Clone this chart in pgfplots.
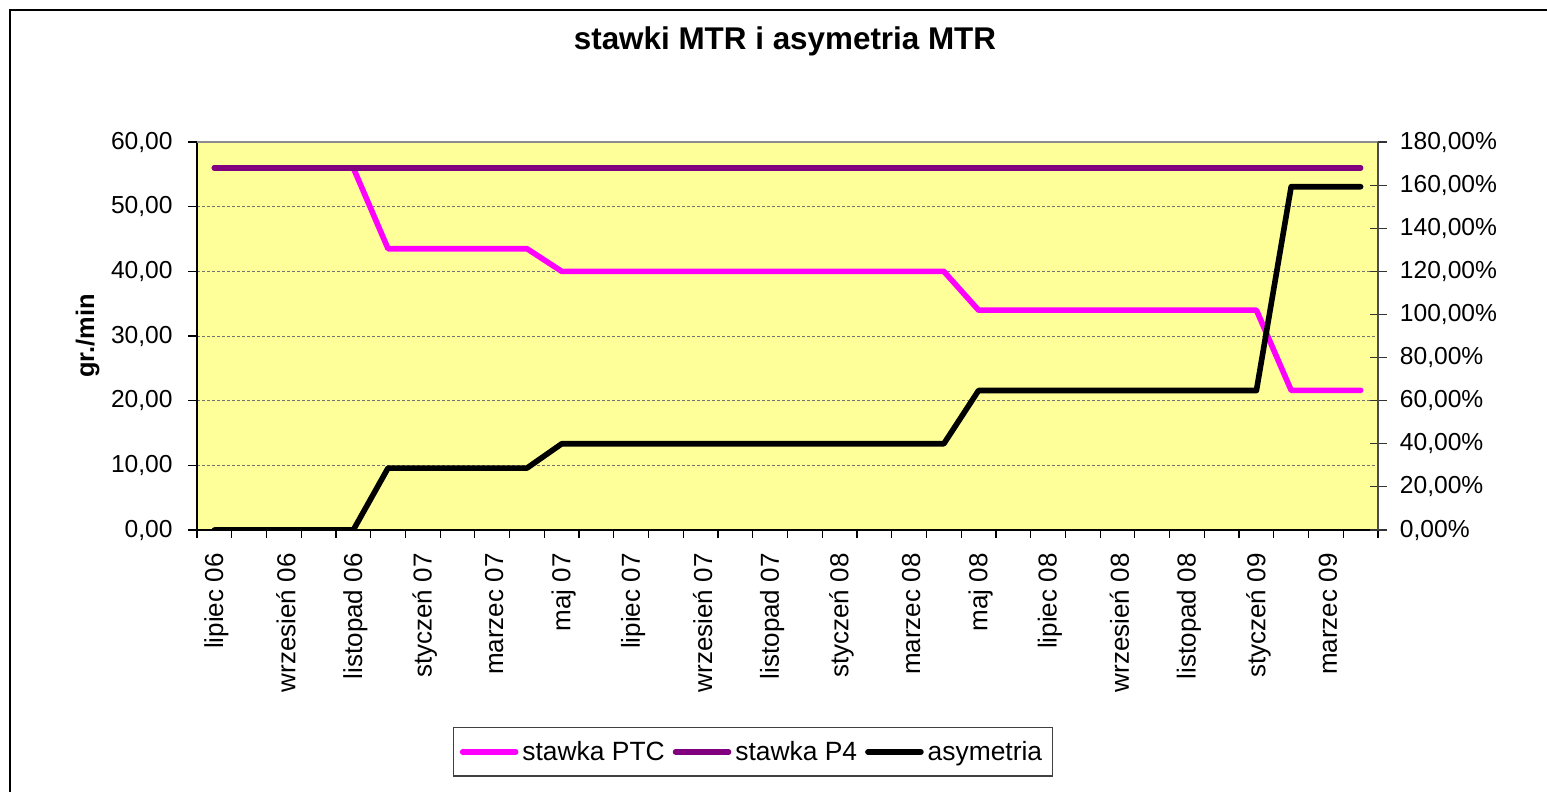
\documentclass[border=0pt]{standalone}
\usepackage{pgfplots}
\usepackage{pgfplotstable}
\pgfplotsset{compat=1.18}
\usepackage{fontspec}
\setmainfont{Liberation Sans}
\definecolor{ptc}{HTML}{FF00FF}
\definecolor{ptfour}{HTML}{800080}
\definecolor{bgy}{HTML}{FFFF99}

\pgfplotstableread{
x ptc p4 asym
0 56 56 0
1 56 56 0
2 56 56 0
3 56 56 0
4 56 56 0
5 43.5 56 28.74
6 43.5 56 28.74
7 43.5 56 28.74
8 43.5 56 28.74
9 43.5 56 28.74
10 40 56 40
11 40 56 40
12 40 56 40
13 40 56 40
14 40 56 40
15 40 56 40
16 40 56 40
17 40 56 40
18 40 56 40
19 40 56 40
20 40 56 40
21 40 56 40
22 34 56 64.71
23 34 56 64.71
24 34 56 64.71
25 34 56 64.71
26 34 56 64.71
27 34 56 64.71
28 34 56 64.71
29 34 56 64.71
30 34 56 64.71
31 21.6 56 159.26
32 21.6 56 159.26
33 21.6 56 159.26
}\datatable

\pgfplotsset{
  common/.style={
    scale only axis, width=590.5pt, height=194pt,
    at={(98.5pt,-265pt)}, anchor=south west,
    xmin=-0.5, xmax=33.5,
    tick label style={font=\fontsize{12.3}{14}\selectfont},
    axis line style={-, line width=0.6pt},
  },
  serie/.style={line width=2.8pt, line cap=round, line join=round, mark=none},
}

\begin{document}
\begin{tikzpicture}
\useasboundingbox (0,0) rectangle (773.5pt,-396pt);
\draw[line width=0.9pt] (780pt,-5pt) -- (5pt,-5pt) -- (5pt,-400pt);
\node[font=\bfseries\fontsize{15.7}{18}\selectfont] at (392.5pt,-20.5pt) {stawki MTR i asymetria MTR};

\begin{axis}[common,
  axis background/.style={fill=bgy},
  axis x line*=bottom, axis y line*=left,
  ymin=0, ymax=60,
  ytick={0,10,...,60},
  yticklabels={{0,00},{10,00},{20,00},{30,00},{40,00},{50,00},{60,00}},
  ymajorgrids,
  grid style={draw=black!55, line width=0.5pt, dash pattern=on 1.5pt off 1pt},
  tick align=outside,
  major tick length=4.5pt,
  minor tick length=4pt,
  tick style={black, line width=0.6pt},
  xtick={0,2,...,32},
  xticklabels={lipiec 06, wrzesień 06, listopad 06, styczeń 07, marzec 07, maj 07, lipiec 07, wrzesień 07, listopad 07, styczeń 08, marzec 08, maj 08, lipiec 08, wrzesień 08, listopad 08, styczeń 09, marzec 09},
  major x tick style={draw=none},
  minor xtick={-0.5,0.5,...,33.5},
  xticklabel style={rotate=90, anchor=east, inner sep=0pt, yshift=-1pt, xshift=-7pt, font=\fontsize{13}{15}\selectfont},
  yticklabel style={anchor=east, inner sep=0pt, xshift=-7.5pt},
  ylabel={gr./min},
  ylabel style={font=\bfseries\fontsize{12.7}{14}\selectfont, at={(rel axis cs:-0.0927,0.5)}, anchor=center},
]
\addplot[serie, color=ptc] table[x=x, y=ptc] {\datatable};
\addplot[serie, color=ptfour] table[x=x, y=p4] {\datatable};
\end{axis}

\begin{axis}[common,
  axis x line*=top, axis y line*=right,
  x axis line style={draw=black!45},
  y axis line style={draw=black!70},
  xtick=\empty,
  ymin=0, ymax=180,
  ytick={0,20,...,180},
  yticklabels={{0,00\%},{20,00\%},{40,00\%},{60,00\%},{80,00\%},{100,00\%},{120,00\%},{140,00\%},{160,00\%},{180,00\%}},
  tick align=center,
  major tick length=8.5pt,
  ytick style={black!80, line width=0.6pt},
  yticklabel style={anchor=west, inner sep=0pt, xshift=6.5pt},
  legend columns=3,
  legend style={at={(rel axis cs:0.4708,-0.572)}, anchor=center, draw=black!75, line width=0.6pt, fill=white,
    font=\fontsize{13.2}{15}\selectfont, inner xsep=3pt, inner ysep=4.5pt,
    /tikz/every even column/.append style={column sep=2pt}},
  legend image code/.code={\draw[#1, line cap=round] (0pt,0pt) -- (26.5pt,0pt);},
]
\addlegendimage{serie, color=ptc}
\addlegendentry{stawka PTC}
\addlegendimage{serie, color=ptfour}
\addlegendentry{stawka P4}
\addplot[serie, color=black] table[x=x, y=asym] {\datatable};
\addlegendentry{asymetria}
\end{axis}
\end{tikzpicture}
\end{document}
